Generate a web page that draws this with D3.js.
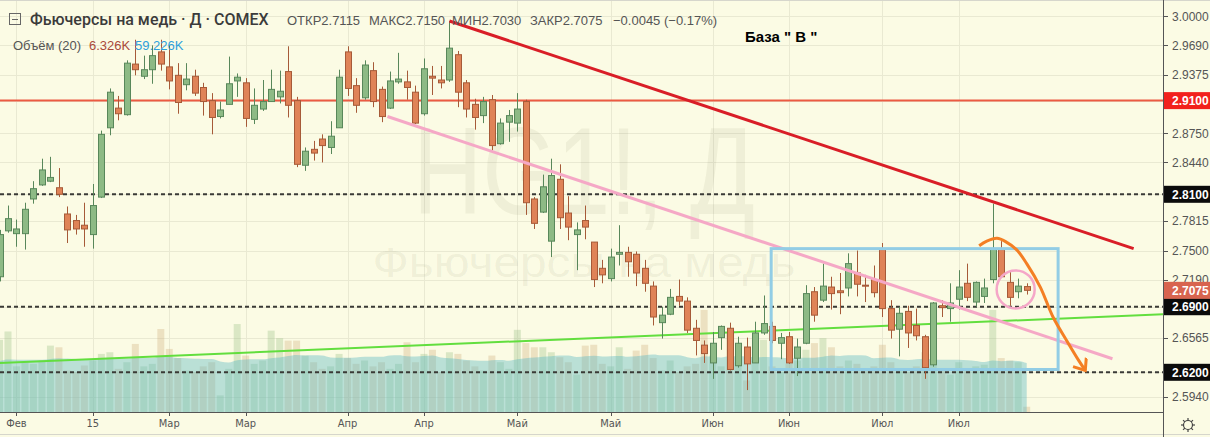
<!DOCTYPE html>
<html><head><meta charset="utf-8">
<script src="https://cdn.jsdelivr.net/npm/d3@7"></script>
<style>html,body{margin:0;padding:0;background:#fbfbe4;}svg{display:block;}</style>
</head><body><svg id="c" width="1210" height="437"></svg>
<script>
// ---- DATA ----
const open=[2.722,2.771,2.768,2.768,2.805,2.820,2.824,2.817,2.789,2.782,
2.777,2.767,2.807,2.881,2.902,2.895,2.949,2.936,2.943,2.962,
2.946,2.937,2.927,2.936,2.924,2.910,2.893,2.906,2.931,2.929,
2.890,2.901,2.909,2.914,2.941,2.910,2.841,2.858,2.869,2.860,
2.881,2.962,2.926,2.913,2.942,2.922,2.902,2.930,2.930,2.919,
2.896,2.936,2.932,2.932,2.959,2.929,2.906,2.894,2.911,2.864,
2.887,2.886,2.909,2.805,2.791,2.760,2.826,2.790,2.767,2.782,
2.759,2.731,2.720,2.746,2.748,2.746,2.731,2.712,2.673,2.682,
2.701,2.696,2.667,2.649,2.630,2.657,2.667,2.627,2.647,2.630,
2.662,2.669,2.651,2.658,2.635,2.651,2.706,2.697,2.711,2.707,
2.710,2.726,2.713,2.719,2.751,2.688,2.666,2.685,2.670,2.658,
2.628,2.691,2.688,2.698,2.715,2.695,2.701,2.719,2.751,2.716,
2.706,2.7115];
const high=[2.772,2.798,2.783,2.801,2.824,2.848,2.850,2.838,2.797,2.788,
2.801,2.821,2.878,2.923,2.915,2.953,2.975,2.958,2.969,2.975,
2.969,2.950,2.950,2.943,2.929,2.918,2.909,2.957,2.939,2.934,
2.923,2.932,2.943,2.942,2.968,2.914,2.860,2.867,2.874,2.888,
2.943,2.968,2.934,2.953,2.951,2.925,2.941,2.961,2.942,2.926,
2.955,2.947,2.947,2.995,2.963,2.932,2.912,2.914,2.916,2.891,
2.900,2.918,2.911,2.807,2.831,2.848,2.842,2.808,2.780,2.798,
2.759,2.740,2.752,2.777,2.754,2.749,2.740,2.717,2.690,2.709,
2.719,2.700,2.676,2.654,2.663,2.670,2.673,2.658,2.657,2.674,
2.702,2.674,2.662,2.663,2.656,2.713,2.711,2.736,2.722,2.726,
2.747,2.750,2.724,2.734,2.758,2.697,2.690,2.691,2.688,2.660,
2.695,2.697,2.715,2.729,2.736,2.717,2.720,2.800,2.760,2.729,
2.720,2.715];
const low=[2.717,2.769,2.754,2.751,2.800,2.819,2.823,2.807,2.758,2.767,
2.754,2.752,2.806,2.873,2.889,2.894,2.937,2.933,2.928,2.942,
2.922,2.896,2.921,2.915,2.894,2.874,2.891,2.906,2.914,2.882,
2.885,2.899,2.909,2.907,2.892,2.839,2.835,2.846,2.844,2.853,
2.881,2.915,2.897,2.911,2.903,2.887,2.901,2.928,2.911,2.885,
2.894,2.916,2.923,2.930,2.903,2.892,2.879,2.886,2.857,2.863,
2.866,2.877,2.788,2.773,2.790,2.743,2.773,2.761,2.729,2.762,
2.711,2.715,2.717,2.734,2.722,2.712,2.706,2.670,2.656,2.681,
2.691,2.662,2.638,2.630,2.613,2.644,2.622,2.625,2.601,2.630,
2.660,2.651,2.634,2.629,2.616,2.650,2.674,2.695,2.687,2.682,
2.701,2.701,2.695,2.700,2.679,2.656,2.637,2.646,2.654,2.613,
2.626,2.679,2.674,2.687,2.696,2.690,2.694,2.715,2.721,2.691,
2.699,2.703];
const close=[2.767,2.784,2.773,2.794,2.816,2.836,2.828,2.810,2.772,2.773,
2.773,2.798,2.874,2.919,2.896,2.950,2.943,2.943,2.958,2.949,
2.931,2.908,2.933,2.918,2.909,2.892,2.900,2.928,2.935,2.891,
2.905,2.909,2.922,2.920,2.905,2.842,2.856,2.854,2.862,2.872,
2.935,2.923,2.905,2.948,2.909,2.893,2.931,2.933,2.924,2.886,
2.944,2.934,2.929,2.966,2.919,2.901,2.892,2.909,2.862,2.886,
2.894,2.901,2.801,2.779,2.818,2.830,2.785,2.775,2.772,2.775,
2.719,2.724,2.743,2.748,2.738,2.726,2.715,2.679,2.681,2.700,
2.696,2.665,2.654,2.640,2.651,2.669,2.623,2.651,2.629,2.662,
2.672,2.654,2.657,2.630,2.647,2.704,2.681,2.712,2.704,2.705,
2.736,2.714,2.712,2.705,2.688,2.665,2.683,2.662,2.659,2.625,
2.694,2.689,2.694,2.711,2.700,2.716,2.710,2.752,2.722,2.700,
2.712,2.7075];
// volume, thousands of contracts
const volume=[87,97,55,60,58,62,80,78,50,48,
56,62,70,72,52,60,82,55,58,100,
76,65,50,48,55,60,20,52,106,68,
58,62,98,89,86,86,68,60,52,55,
70,65,58,62,55,60,52,58,84,60,
70,75,48,72,70,62,55,50,68,60,
52,99,83,78,78,72,66,60,45,80,
81,58,55,78,52,74,81,65,50,62,
48,55,58,123,68,55,95,60,38,62,
87,55,48,58,62,75,83,89,78,55,
62,58,50,55,81,60,52,48,55,72,
70,50,45,60,52,55,57,123,65,62,
60,6.326];
const volumeMAStart=60; // MA(20) level read at the left edge
const xTickIndex=[2,11,20,29,41,50,61,72,84,93,104,113];
const xTickLabels=["Фев","15","Мар","Мар","Апр","Апр","Май","Май","Июн","Июн","Июл","Июл"];
const yTickValues=[3.0000,2.9690,2.9375,2.8750,2.8440,2.7815,2.7500,2.7190,2.6565,2.5940];
const levelRed=2.91;
const levelDashed=[2.81,2.69,2.62];
const lastPrice=2.7075;
// drawings (bar index, price)
const redTrend=[[53,2.995],[133.6,2.752]];
const pinkTrend=[[45.7,2.893],[131.1,2.6345]];
const greenTrend=[[0,2.630],[137.1,2.682]];
const boxIdx=[90.9,124.7];
const boxPrice=[2.752,2.623];
const circleCenter=[119.7,2.7085];
const arrowPts=[[115.4,2.755],[116.3,2.760],[117.5,2.763],[118.6,2.759],[119.8,2.751],[121.0,2.736],[122.6,2.711],[124.1,2.679],[125.7,2.654],[127.1,2.633],[127.9,2.622]];

// ---- LAYOUT ----
const plotR=1163, plotB=412;
const svg=d3.select('#c');
const font='"Liberation Sans", Arial, sans-serif';
const x=d3.scaleLinear().domain([0,121]).range([-0.5,1026.7]);
const y=d3.scaleLinear().domain([2.62,2.81]).range([372.3,194.3]);
const vy=d3.scaleLinear().domain([0,100]).range([plotB,plotB-83]);

svg.append('rect').attr('width',1210).attr('height',437).attr('fill','#fbfbe4');
const defs=svg.append('defs');
defs.append('clipPath').attr('id','clip').append('rect').attr('x',0).attr('y',0).attr('width',plotR).attr('height',plotB);
const mk=defs.append('marker').attr('id','arr').attr('markerUnits','userSpaceOnUse')
 .attr('markerWidth',20).attr('markerHeight',20).attr('refX',12).attr('refY',8).attr('orient','auto');
mk.append('path').attr('d','M2,0 L12,8 L2,16').attr('fill','none').attr('stroke','#f47f24').attr('stroke-width',3);

const plot=svg.append('g').attr('clip-path','url(#clip)');

// grid
const gridY=yTickValues.concat([levelRed],levelDashed);
plot.selectAll('.gy').data(gridY).join('line')
 .attr('x1',0).attr('x2',plotR).attr('y1',d=>Math.round(y(d))+0.5).attr('y2',d=>Math.round(y(d))+0.5)
 .attr('stroke','#e9e9d2').attr('stroke-width',1);
plot.selectAll('.gx').data(xTickIndex).join('line')
 .attr('x1',d=>Math.round(x(d))+0.5).attr('x2',d=>Math.round(x(d))+0.5).attr('y1',0).attr('y2',plotB)
 .attr('stroke','#e9e9d2').attr('stroke-width',1);

// watermark
plot.append('text').attr('x',584).attr('y',214).attr('text-anchor','middle')
 .attr('font-family',font).attr('font-size',124).attr('textLength',342).attr('lengthAdjust','spacingAndGlyphs')
 .attr('fill','rgba(90,90,50,0.075)').text('HG1!, Д');
plot.append('text').attr('x',584).attr('y',277).attr('text-anchor','middle')
 .attr('font-family',font).attr('font-size',43).attr('textLength',423).attr('lengthAdjust','spacingAndGlyphs')
 .attr('fill','rgba(90,90,50,0.075)').text('Фьючерсы на медь');

// volume bars
const idx=d3.range(open.length);
plot.selectAll('.vb').data(idx).join('rect')
 .attr('x',i=>x(i)-3.5).attr('width',7)
 .attr('y',i=>vy(volume[i])).attr('height',i=>plotB-vy(volume[i]))
 .attr('fill',i=>close[i]>=open[i]?'rgba(150,190,130,0.32)':'rgba(205,170,120,0.32)');
// volume MA(20); bars before the first visible one are taken at the level read at the left edge
const ma=idx.map(i=>{const s=volume.slice(Math.max(0,i-19),i+1);const miss=20-s.length;return (d3.sum(s)+miss*volumeMAStart)/20;});
const area=d3.area().x(i=>x(i)).y0(plotB).y1(i=>vy(ma[i])).curve(d3.curveMonotoneX);
plot.append('path').datum(idx).attr('d',area).attr('fill','rgba(95,185,195,0.42)');

// levels
plot.append('line').attr('x1',0).attr('x2',plotR).attr('y1',y(levelRed)).attr('y2',y(levelRed))
 .attr('stroke','#ec5a42').attr('stroke-width',2);
plot.selectAll('.ld').data(levelDashed).join('line')
 .attr('x1',0).attr('x2',plotR).attr('y1',d=>y(d)).attr('y2',d=>y(d))
 .attr('stroke','#3a3a36').attr('stroke-width',2).attr('stroke-dasharray','4,3');

// green trend
const ln=d3.line().x(d=>x(d[0])).y(d=>y(d[1]));
plot.append('path').attr('d',ln(greenTrend)).attr('stroke','#62de3e').attr('stroke-width',2).attr('fill','none');

// candles
const up='#8dba85', upS='#58875a', dn='#df8357', dnS='#a65a38';
const cg=plot.append('g');
cg.selectAll('.w').data(idx).join('line')
 .attr('x1',i=>Math.round(x(i))+0.5).attr('x2',i=>Math.round(x(i))+0.5)
 .attr('y1',i=>y(high[i])).attr('y2',i=>y(low[i]))
 .attr('stroke',i=>close[i]>=open[i]?upS:dnS).attr('stroke-width',1);
cg.selectAll('.b').data(idx).join('rect')
 .attr('x',i=>Math.round(x(i))-2.5).attr('width',6)
 .attr('y',i=>y(Math.max(open[i],close[i])))
 .attr('height',i=>Math.max(1,Math.abs(y(open[i])-y(close[i]))))
 .attr('fill',i=>close[i]>=open[i]?up:dn)
 .attr('stroke',i=>close[i]>=open[i]?upS:dnS).attr('stroke-width',1);

// drawings
plot.append('path').attr('d',ln(pinkTrend)).attr('stroke','#f5a8c6').attr('stroke-width',3).attr('fill','none');
plot.append('path').attr('d',ln(redTrend)).attr('stroke','#d91e27').attr('stroke-width',3).attr('fill','none');
plot.append('rect').attr('x',x(boxIdx[0])).attr('y',y(boxPrice[0]))
 .attr('width',x(boxIdx[1])-x(boxIdx[0])).attr('height',y(boxPrice[1])-y(boxPrice[0]))
 .attr('fill','none').attr('stroke','#92cde5').attr('stroke-width',3);
plot.append('ellipse').attr('cx',x(circleCenter[0])).attr('cy',y(circleCenter[1])).attr('rx',19).attr('ry',19)
 .attr('fill','none').attr('stroke','#f5a7c8').attr('stroke-width',2.5);
plot.append('path').attr('d',d3.line().x(d=>x(d[0])).y(d=>y(d[1])).curve(d3.curveCatmullRom)(arrowPts))
 .attr('fill','none').attr('stroke','#f47f24').attr('stroke-width',3).attr('marker-end','url(#arr)');

// header
svg.append('rect').attr('x',9.5).attr('y',13.5).attr('width',11).attr('height',11).attr('fill','none').attr('stroke','#666');
svg.append('line').attr('x1',12).attr('x2',18).attr('y1',19.5).attr('y2',19.5).attr('stroke','#666');
svg.append('text').attr('x',30).attr('y',25).attr('font-family','Roboto, "Liberation Sans", sans-serif').attr('font-weight',500)
 .attr('font-size',16).attr('fill','#3b3b3b').text('Фьючерсы на медь · Д · COMEX');
const ohlc=[['ОТКР','2.7115',287],['МАКС','2.7150',369],['МИН','2.7030',452],['ЗАКР','2.7075',530]];
ohlc.forEach(([l,v,px])=>{
 const t=svg.append('text').attr('x',px).attr('y',25).attr('font-family',font).attr('font-size',13).attr('fill','#555');
 t.append('tspan').text(l); t.append('tspan').text(v);
});
svg.append('text').attr('x',613).attr('y',25).attr('font-family',font).attr('font-size',13).attr('fill','#555').text('−0.0045 (−0.17%)');
svg.append('text').attr('x',13).attr('y',50).attr('font-family',font).attr('font-size',13).attr('fill','#555').text('Объём (20)');
svg.append('text').attr('x',89).attr('y',50).attr('font-family',font).attr('font-size',13).attr('fill','#a9493a').text('6.326K');
svg.append('text').attr('x',135).attr('y',50).attr('font-family',font).attr('font-size',13).attr('fill','#2f9fdc').text('59.226K');
svg.append('text').attr('x',745).attr('y',42).attr('font-family',font).attr('font-weight','bold')
 .attr('font-size',15).attr('fill','#000').text('База  " В "');

// borders
svg.append('line').attr('x1',0).attr('x2',1210).attr('y1',0.5).attr('y2',0.5).attr('stroke','#d6d6cc');
svg.append('line').attr('x1',0).attr('x2',1210).attr('y1',434.5).attr('y2',434.5).attr('stroke','#d6d6cc');

// right axis
svg.append('line').attr('x1',plotR+0.5).attr('x2',plotR+0.5).attr('y1',0).attr('y2',437).attr('stroke','#555');
svg.append('line').attr('x1',0).attr('x2',plotR).attr('y1',plotB+0.5).attr('y2',plotB+0.5).attr('stroke','#555');
svg.selectAll('.yt').data(yTickValues).join('line')
 .attr('x1',plotR).attr('x2',plotR+5).attr('y1',d=>Math.round(y(d))+0.5).attr('y2',d=>Math.round(y(d))+0.5).attr('stroke','#555');
svg.selectAll('.ytl').data(yTickValues).join('text')
 .attr('x',1172).attr('y',d=>y(d)).attr('dy','0.35em').attr('font-family',font).attr('font-size',12).attr('fill','#555')
 .text(d=>d.toFixed(4));
const boxes=[[levelRed,'#f2211c'],[levelDashed[0],'#0b0b0b'],[levelDashed[1],'#0b0b0b'],[levelDashed[2],'#0b0b0b'],[lastPrice,'#d8644f']];
boxes.forEach(([v,c])=>{
 svg.append('rect').attr('x',plotR+1).attr('y',y(v)-8.5).attr('width',1210-plotR-1).attr('height',17).attr('fill',c);
 svg.append('text').attr('x',1172).attr('y',y(v)).attr('dy','0.35em').attr('font-family',font).attr('font-weight','bold')
  .attr('font-size',12).attr('fill','#fff').text(v.toFixed(4));
});

// x axis
svg.selectAll('.xt').data(xTickIndex).join('line')
 .attr('x1',d=>Math.round(x(d))+0.5).attr('x2',d=>Math.round(x(d))+0.5).attr('y1',plotB).attr('y2',plotB+4).attr('stroke','#555');
svg.selectAll('.xtl').data(xTickIndex).join('text')
 .attr('x',d=>x(d)).attr('y',427).attr('text-anchor','middle').attr('font-family','"Liberation Sans Narrow", "DejaVu Sans Condensed", "Liberation Sans", sans-serif')
 .attr('font-size',11).attr('fill','#555').text((d,i)=>xTickLabels[i]);

// gear icon
const gear=svg.append('g').attr('transform','translate(1188,425)');
gear.append('circle').attr('r',4.5).attr('fill','none').attr('stroke','#444').attr('stroke-width',1.2);
d3.range(8).forEach(k=>{const a=k*Math.PI/4;
 gear.append('line').attr('x1',Math.cos(a)*4.5).attr('y1',Math.sin(a)*4.5).attr('x2',Math.cos(a)*7).attr('y2',Math.sin(a)*7)
 .attr('stroke','#444').attr('stroke-width',1.2);});
</script></body></html>
